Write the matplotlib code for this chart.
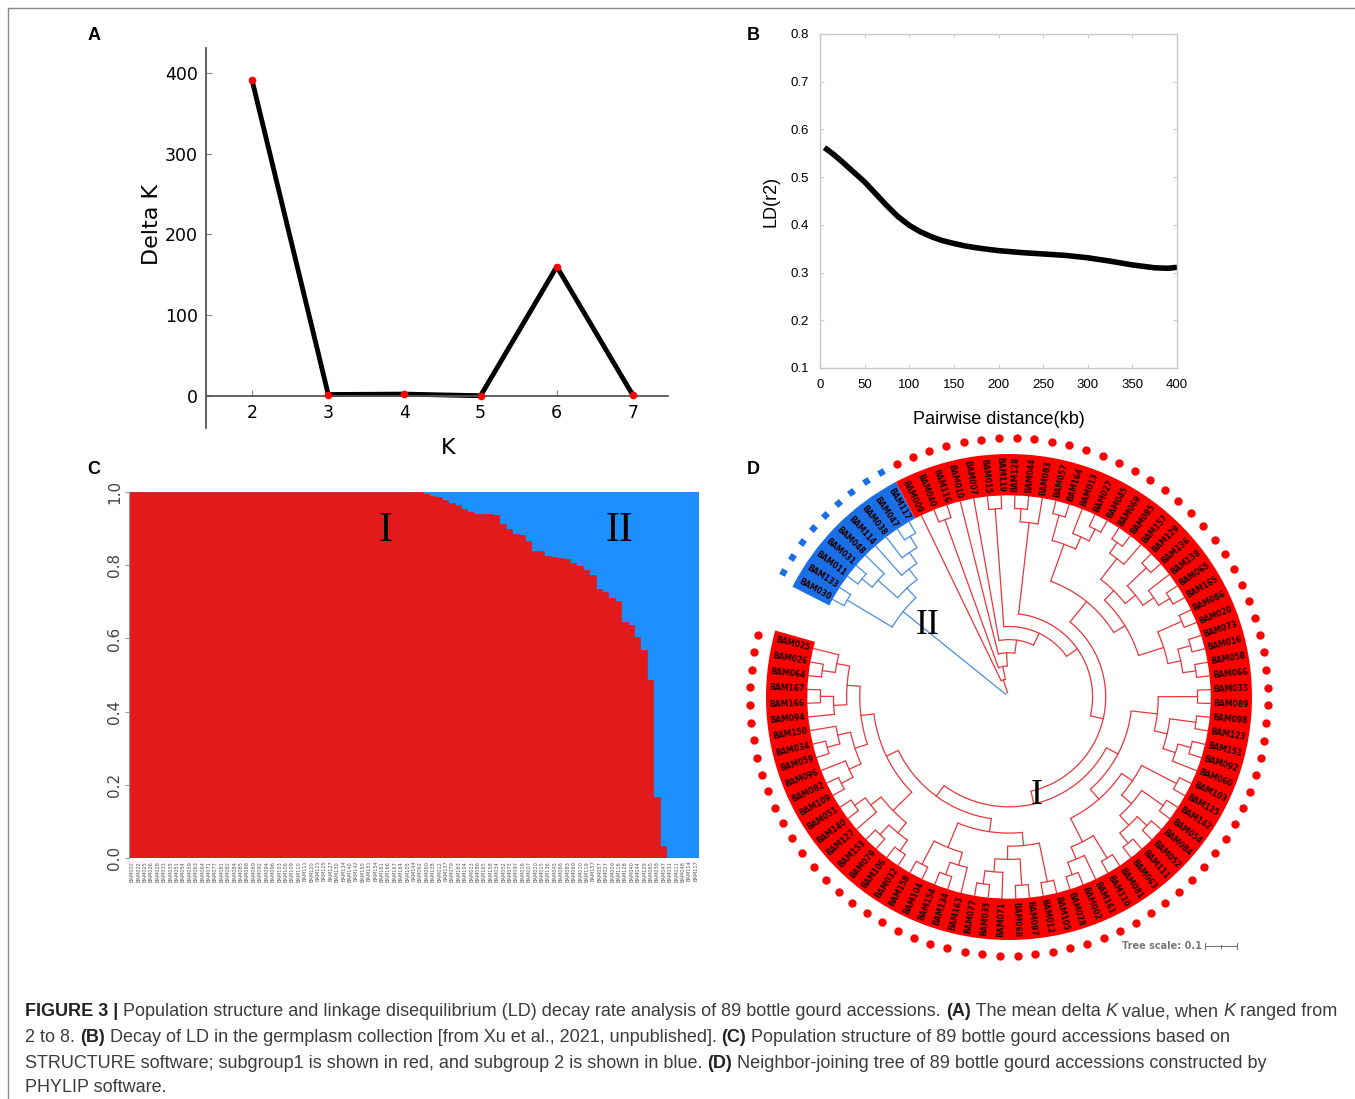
import numpy as np
import matplotlib
matplotlib.use("Agg")
import matplotlib.pyplot as plt
from matplotlib.patches import Wedge
from matplotlib.font_manager import FontProperties

W, H = 1355, 1099

# ---- panel A: delta K ----
k_values = [2, 3, 4, 5, 6, 7]
delta_k = [391, 1.5, 2, 0, 160, 0.5]

# ---- panel B: LD decay ----
ld_dist = [5, 15, 25, 35, 50, 62, 75, 87, 100, 112, 125, 137, 150, 162, 175, 187,
           200, 225, 250, 275, 300, 325, 350, 375, 390, 400]
ld_r2 = [0.562, 0.548, 0.532, 0.515, 0.490, 0.466, 0.440, 0.418, 0.399, 0.386,
         0.375, 0.367, 0.361, 0.356, 0.352, 0.349, 0.346, 0.342, 0.339, 0.336,
         0.331, 0.324, 0.316, 0.310, 0.309, 0.311]

# ---- panel C: STRUCTURE membership (fraction of subgroup I) ----
q_red = [1.0] * 46 + [
    0.994, 0.989, 0.985, 0.978, 0.971, 0.964, 0.954, 0.945, 0.939, 0.939,
    0.939, 0.937, 0.912, 0.900, 0.884, 0.882, 0.866, 0.839, 0.839, 0.825,
    0.823, 0.820, 0.816, 0.805, 0.798, 0.787, 0.772, 0.736, 0.727, 0.711,
    0.702, 0.645, 0.636, 0.605, 0.568, 0.486, 0.167, 0.033, 0.0, 0.0,
    0.0, 0.0, 0.0]
struct_labels = [
    "BAM002", "BAM022", "BAM025", "BAM026", "BAM028", "BAM033", "BAM035", "BAM051", "BAM054", "BAM059",
    "BAM063", "BAM064", "BAM071", "BAM077", "BAM081", "BAM082", "BAM084", "BAM085", "BAM088", "BAM089",
    "BAM092", "BAM094", "BAM096", "BAM103", "BAM106", "BAM109", "BAM110", "BAM111", "BAM120", "BAM121",
    "BAM125", "BAM127", "BAM130", "BAM134", "BAM140", "BAM142", "BAM150", "BAM151", "BAM154", "BAM161",
    "BAM166", "BAM167", "BAM164", "BAM105", "BAM144", "BAM062",
    "BAM060", "BAM138", "BAM012", "BAM137", "BAM079", "BAM163", "BAM104", "BAM013", "BAM086", "BAM165",
    "BAM158", "BAM034", "BAM052", "BAM073", "BAM097", "BAM016", "BAM007", "BAM020", "BAM015", "BAM136",
    "BAM045", "BAM066", "BAM083", "BAM069", "BAM010", "BAM119", "BAM157", "BAM057", "BAM027", "BAM009",
    "BAM116", "BAM128", "BAM040", "BAM044", "BAM129", "BAM065", "BAM038", "BAM047",
    "BAM031", "BAM011", "BAM048", "BAM114", "BAM117"]

# ---- panel D: neighbor-joining tree topology ----
blue_clade = (("BAM030", "BAM133"),
              ((("BAM011", "BAM031"), "BAM048"),
               ("BAM114", ("BAM038", ("BAM047", "BAM117")))))
g1 = (("BAM057", "BAM164"), ("BAM013", ("BAM027", "BAM045")))
g2 = ((("BAM069", "BAM085"), "BAM157"), (("BAM129", "BAM136"), ("BAM138", ("BAM065", "BAM165"))))
g3 = (("BAM086", "BAM020"), (("BAM073", "BAM016"), ("BAM058", "BAM066")))
g4 = (("BAM033", "BAM089"), (("BAM098", "BAM123"), (("BAM151", "BAM092"), "BAM060")))
g5 = (("BAM103", "BAM125"), (("BAM142", "BAM054"), (("BAM084", "BAM052"), ("BAM111", "BAM063"))))
g6 = (("BAM081", "BAM110"), ("BAM161", ("BAM002", "BAM028")))
g7 = (("BAM105", "BAM012"), (("BAM097", "BAM068"), ("BAM071", ("BAM035", "BAM077"))))
g8 = (("BAM163", ("BAM134", "BAM154")), ("BAM104", "BAM158"))
g9 = ((("BAM032", "BAM106"), ("BAM079", "BAM153")), ("BAM127", ("BAM140", "BAM051")))
g10 = ((("BAM109", "BAM082"), "BAM096"), (("BAM059", "BAM034"), "BAM150"))
g11 = (("BAM094", ("BAM166", "BAM167")), (("BAM064", "BAM026"), "BAM025"))
red_rest = ((g1, (g2, g3)), ((g4, (g5, g6)), ((g7, g8), (g9, (g10, g11)))))
red_clade = ("BAM009", (("BAM040", "BAM116"),
             ("BAM010", ("BAM007", (("BAM015", "BAM119"),
                                    ((("BAM128", "BAM044"), "BAM083"), red_rest))))))

RED = "#e31a1c"
BLUE = "#1e8fff"
TREE_RED = "#e8363c"
TREE_BLUE = "#4a8ee0"


def rect(x0, y0, x1, y1):
    return [x0 / W, 1 - y1 / H, (x1 - x0) / W, (y1 - y0) / H]


fig = plt.figure(figsize=(W / 100, H / 100), dpi=100)
fig.patch.set_facecolor("white")

# frame lines
fig.add_artist(plt.Line2D([8 / W, 1], [1 - 8 / H, 1 - 8 / H], color="#8a8a8a", lw=1))
fig.add_artist(plt.Line2D([8 / W, 8 / W], [0, 1 - 8 / H], color="#8a8a8a", lw=1))

# panel letters
for lab, (x, y) in zip("ABCD", [(94, 36), (753, 35), (94, 469), (753, 469)]):
    fig.text(x / W, 1 - y / H, lab, fontsize=13, fontweight="bold",
             family="Liberation Sans", ha="center", va="center")

# ================= A =================
axA = fig.add_axes(rect(206, 48, 668, 428))
axA.plot(k_values, delta_k, color="black", lw=3.5, zorder=2)
axA.plot(k_values, delta_k, "o", color="red", ms=4.5, zorder=3)
axA.set_xlim(1.395, 7.46)
axA.set_ylim(-40, 431)
for s in ["top", "right"]:
    axA.spines[s].set_visible(False)
axA.spines["bottom"].set_position(("data", 0))
for s in ["left", "bottom"]:
    axA.spines[s].set_color("#555555")
    axA.spines[s].set_linewidth(1.3)
axA.set_xticks(k_values)
axA.set_yticks([0, 100, 200, 300, 400])
axA.tick_params(direction="in", length=4, color="#888888", labelsize=12.5, pad=6)
fig.text(152 / W, 1 - 224 / H, "Delta K", fontsize=16, rotation=90, ha="center", va="center")
fig.text(448 / W, 1 - 448 / H, "K", fontsize=16, ha="center", va="center")

# ================= B =================
axB = fig.add_axes(rect(820, 34, 1177, 368))
axB.plot(ld_dist, ld_r2, color="black", lw=4, solid_capstyle="butt", solid_joinstyle="round")
axB.set_xlim(0, 400)
axB.set_ylim(0.1, 0.8)
axB.set_xticks(range(0, 401, 50))
axB.set_yticks([0.1, 0.2, 0.3, 0.4, 0.5, 0.6, 0.7, 0.8])
for s in axB.spines.values():
    s.set_color("#c8c8c8")
    s.set_linewidth(1)
axB.tick_params(direction="in", length=3, color="#cccccc", labelsize=9.5, pad=8,
                top=True, right=True)
for t in axB.get_xticklabels() + axB.get_yticklabels():
    t.set_family("Liberation Sans")
axB.set_ylabel("LD(r2)", fontsize=13, family="Liberation Sans", labelpad=8)
axB.set_xlabel("Pairwise distance(kb)", fontsize=13, family="Liberation Sans", labelpad=14)

# ================= C =================
axC = fig.add_axes(rect(129, 492, 699, 858))
xs = np.arange(len(q_red))
q = np.array(q_red)
axC.bar(xs, q, width=1.0, color=RED, edgecolor=RED, linewidth=0.2)
axC.bar(xs, 1 - q, bottom=q, width=1.0, color=BLUE, edgecolor=BLUE, linewidth=0.2)
axC.set_xlim(-0.5, len(q_red) - 0.5)
axC.set_ylim(0, 1)
for s in ["top", "right", "bottom"]:
    axC.spines[s].set_visible(False)
axC.spines["left"].set_color("#999999")
axC.spines["left"].set_linewidth(0.8)
axC.set_yticks([0.0, 0.2, 0.4, 0.6, 0.8, 1.0])
axC.set_yticklabels(["0.0", "0.2", "0.4", "0.6", "0.8", "1.0"], rotation=90,
                    va="center", fontsize=11, color="#444444")
axC.set_xticks(xs)
axC.set_xticklabels(struct_labels, rotation=90, fontsize=3.6, color="#555555")
axC.tick_params(axis="x", length=0, pad=2)
axC.tick_params(axis="y", length=3, color="#999999", pad=2)
axC.text(0.45, 0.895, "I", transform=axC.transAxes, fontsize=30, family="Liberation Serif",
         ha="center", va="center")
axC.text(0.86, 0.895, "II", transform=axC.transAxes, fontsize=30, family="Liberation Serif",
         ha="center", va="center")

# ================= D =================
cx, cy, sc, lim = 1009, 697, 243, 1.12
axD = fig.add_axes(rect(cx - lim * sc, cy - lim * sc, cx + lim * sc, cy + lim * sc))
axD.set_xlim(-lim, lim)
axD.set_ylim(-lim, lim)
axD.axis("off")

theta_start, theta_step = 153.0, 3.92
r_leaf, r_root = 0.83, 0.02


def height(n):
    return 0 if isinstance(n, str) else 1 + max(height(c) for c in n)


root = (blue_clade, red_clade)
dr = (r_leaf - r_root) / height(root)
leaves = []  # (name, theta, group)


def pol(r, t):
    a = np.radians(t)
    return r * np.cos(a), r * np.sin(a)


def arc(r, t0, t1, color):
    tt = np.linspace(t0, t1, max(2, int(abs(t1 - t0) * 2)))
    x, y = pol(r, tt)
    axD.plot(x, y, color=color, lw=0.9, solid_capstyle="butt")


def draw(node, color, group):
    if isinstance(node, str):
        t = theta_start - theta_step * (len(leaves) + 0.5)
        leaves.append((node, t, group))
        return t, r_leaf
    kids = [draw(c, color, group) for c in node]
    r = r_leaf - dr * height(node)
    ts = [k[0] for k in kids]
    arc(r, min(ts), max(ts), color)
    for t, rc in kids:
        x0, y0 = pol(r, t)
        x1, y1 = pol(rc, t)
        axD.plot([x0, x1], [y0, y1], color=color, lw=0.9)
    return (min(ts) + max(ts)) / 2, r


tb, rb = draw(blue_clade, TREE_BLUE, "blue")
tr, rr = draw(red_clade, TREE_RED, "red")
for t, rc, col in [(tb, rb, TREE_BLUE), (tr, rr, TREE_RED)]:
    x0, y0 = pol(r_root, t)
    x1, y1 = pol(rc, t)
    axD.plot([x0, x1], [y0, y1], color=col, lw=0.9)
arc(r_root, min(tb, tr), max(tb, tr), "#999999")

# colored band
n_blue = sum(1 for l in leaves if l[2] == "blue")
t_split = theta_start - theta_step * n_blue
t_end = theta_start - theta_step * len(leaves)
axD.add_patch(Wedge((0, 0), 1.0, t_split, theta_start, width=0.17, color="#1a6fe6", lw=0))
axD.add_patch(Wedge((0, 0), 1.0, t_end, t_split, width=0.17, color="#ff0000", lw=0))

for name, t, group in leaves:
    rot = t if np.cos(np.radians(t)) >= 0 else t - 180
    x, y = pol(0.915, t)
    axD.text(x, y, name, rotation=rot, rotation_mode="anchor", ha="center", va="center",
             fontsize=5.5, fontweight="bold", color="#1a0000", family="DejaVu Sans")
    mx, my = pol(1.065, t)
    if group == "red":
        axD.plot(mx, my, "o", color="red", ms=6, mec="none")
    else:
        axD.plot(mx, my, marker=(4, 0, t + 45), color="#1a6fe6", ms=6.5, mec="none",
                 linestyle="none")

axD.text((928 - cx) / sc, (cy - 625) / sc, "II", fontsize=26, family="Liberation Serif",
         ha="center", va="center")
axD.text((1037 - cx) / sc, (cy - 795) / sc, "I", fontsize=26, family="Liberation Serif",
         ha="center", va="center")

# tree scale
fig.text(1162 / W, 1 - 946 / H, "Tree scale: 0.1", fontsize=7, fontweight="bold",
         color="#777777", ha="center", va="center", family="DejaVu Sans")
yb = 1 - 946 / H
fig.add_artist(plt.Line2D([1205 / W, 1237 / W], [yb, yb], color="#777777", lw=0.8))
for xb, hh in [(1205, 3), (1221, 1.5), (1237, 3)]:
    fig.add_artist(plt.Line2D([xb / W, xb / W], [yb - hh / H, yb + hh / H],
                              color="#777777", lw=0.8))

# ================= caption =================
cap_lines = [
    [("FIGURE 3 |", "bold", "normal"),
     (" Population structure and linkage disequilibrium (LD) decay rate analysis of 89 bottle gourd accessions. ", "normal", "normal"),
     ("(A)", "bold", "normal"), (" The mean delta ", "normal", "normal"), ("K", "normal", "italic"),
     (" value, when ", "normal", "normal"), ("K", "normal", "italic"), (" ranged from", "normal", "normal")],
    [("2 to 8. ", "normal", "normal"), ("(B)", "bold", "normal"),
     (" Decay of LD in the germplasm collection [from Xu et al., 2021, unpublished]. ", "normal", "normal"),
     ("(C)", "bold", "normal"),
     (" Population structure of 89 bottle gourd accessions based on", "normal", "normal")],
    [("STRUCTURE software; subgroup1 is shown in red, and subgroup 2 is shown in blue. ", "normal", "normal"),
     ("(D)", "bold", "normal"),
     (" Neighbor-joining tree of 89 bottle gourd accessions constructed by", "normal", "normal")],
    [("PHYLIP software.", "normal", "normal")],
]
cap_y = [1012, 1038, 1063, 1088]

renderer = fig.canvas.get_renderer()


def run_width(s, fp):
    w1, _, _ = renderer.get_text_width_height_descent(s + "|", fp, ismath=False)
    w2, _, _ = renderer.get_text_width_height_descent("|", fp, ismath=False)
    return w1 - w2


def props(weight, style, size):
    return FontProperties(family="Liberation Sans", weight=weight, style=style, size=size)


base = 12.0
w_line1 = sum(run_width(s, props(wt, st, base)) for s, wt, st in cap_lines[0])
cap_size = base * (1338 - 25) / w_line1

for runs, y in zip(cap_lines, cap_y):
    x = 25.0
    for s, wt, st in runs:
        fp = props(wt, st, cap_size)
        fig.text(x / W, 1 - y / H, s, fontproperties=fp, va="center", ha="left",
                 color="#222222" if wt == "bold" else "#3c3c3c")
        x += run_width(s, fp)

fig.savefig("out.png", dpi=100, facecolor="white")
